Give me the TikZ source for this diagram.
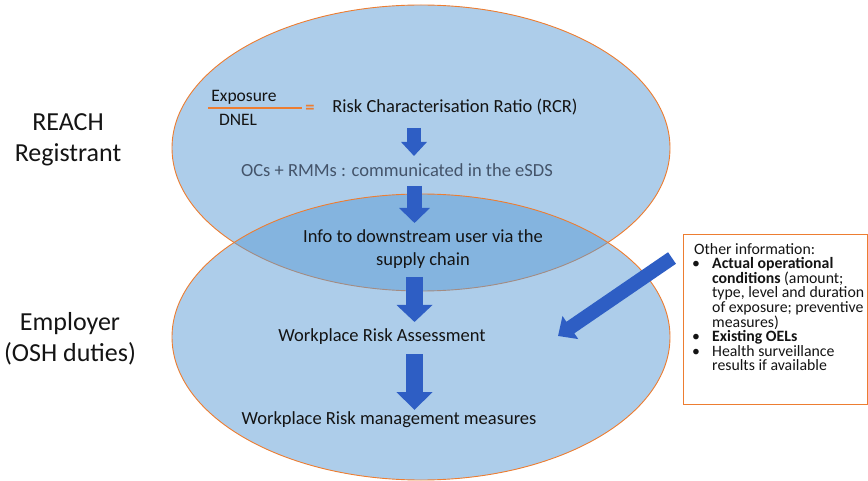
\documentclass[tikz,border=0pt]{standalone}
\usepackage{fontspec}
\setmainfont{Carlito}
\usetikzlibrary{arrows.meta}
\definecolor{ellblue}{RGB}{91,155,213}
\definecolor{ellorange}{RGB}{237,125,49}
\definecolor{arrblue}{RGB}{46,94,196}
\definecolor{ocgray}{RGB}{68,84,106}
\definecolor{txtblack}{RGB}{20,20,20}
\tikzset{
  ellbox/.style={draw=ellorange, line width=0.9pt, fill=ellblue, fill opacity=0.5, draw opacity=1},
  maintxt/.style={font=\fontsize{18.5}{23.5}\selectfont, text=txtblack, inner sep=0pt, align=center},
  sidetxt/.style={font=\fontsize{26}{31}\selectfont, text=txtblack, inner sep=0pt, align=center},
  blockarrow/.style n args={3}{draw=arrblue, line width=#1, -{Triangle[width=#2,length=#3,fill=arrblue]}},
}
\newcommand{\bul}{\makebox[20pt][l]{\textbullet}}
\newcommand{\ind}{\hspace*{20pt}}
\begin{document}
\begin{tikzpicture}[x=1pt,y=-1pt]
\useasboundingbox (0,0) rectangle (868,481);
% ellipses
\draw[ellbox] (421,148) ellipse [x radius=249, y radius=143];
\draw[ellbox] (421,337) ellipse [x radius=249, y radius=143];
% side labels
\node[sidetxt] (reach) at (68,140) {REACH\\Registrant};
\node[sidetxt] (empl) at (70,339) {Employer\\(OSH duties)};
% fraction
\node[maintxt, font=\fontsize{17.5}{20}\selectfont] (expo) at (244,97) {Exposure};
\node[maintxt, font=\fontsize{17.5}{20}\selectfont] (dnel) at (238,120) {DNEL};
\coordinate (fracl) at (208,108);
\coordinate (fracr) at (302,108);
\draw[ellorange, line width=1.3pt] (fracl) -- (fracr);
\node[maintxt, text=ellorange, font=\bfseries\fontsize{18.5}{20}\selectfont] (eq) at (310,109) {=};
\node[maintxt] (rcr) at (455,107) {Risk Characterisation Ratio (RCR)};
\node[maintxt, text=ocgray] (ocs) at (397,170) {OCs + RMMs : communicated in the eSDS};
\node[maintxt] (info) at (423,249) {Info to downstream user via the\\supply chain};
\node[maintxt] (wra) at (382,337) {Workplace Risk Assessment};
\node[maintxt] (wrm) at (389,420) {Workplace Risk management measures};
% arrows
\coordinate (a1s) at (414,128); \coordinate (a1e) at (414,156);
\coordinate (a2s) at (414.5,186); \coordinate (a2e) at (414.5,223);
\coordinate (a3s) at (414.5,277); \coordinate (a3e) at (414.5,322);
\coordinate (a4s) at (414.5,354); \coordinate (a4e) at (414.5,410);
\draw[blockarrow={14pt}{25pt}{14pt}] (a1s) -- (a1e);
\draw[blockarrow={15pt}{30pt}{15pt}] (a2s) -- (a2e);
\draw[blockarrow={17pt}{35pt}{17pt}] (a3s) -- (a3e);
\draw[blockarrow={17pt}{35pt}{18pt}] (a4s) -- (a4e);
% info box
\node[draw=ellorange, line width=0.9pt, fill=white, minimum width=184pt, minimum height=170pt, anchor=north west, inner sep=0pt] (box) at (683,234) {};
\node[anchor=north west, inner sep=0pt, align=left, text=txtblack, font=\fontsize{15.8}{14.6}\selectfont] (boxtxt) at (692,243) {%
\hspace*{2pt}Other information:\\
\bul\textbf{Actual operational}\\
\ind\textbf{conditions} (amount;\\
\ind type, level and duration\\
\ind of exposure; preventive\\
\ind measures)\\
\bul\textbf{Existing OELs}\\
\bul Health surveillance\\
\ind results if available};
% diagonal arrow
\coordinate (d1) at (672,258);
\coordinate (d2) at (558,336);
\draw[blockarrow={14pt}{27pt}{15pt}] (d1) -- (d2);
\end{tikzpicture}
\end{document}
